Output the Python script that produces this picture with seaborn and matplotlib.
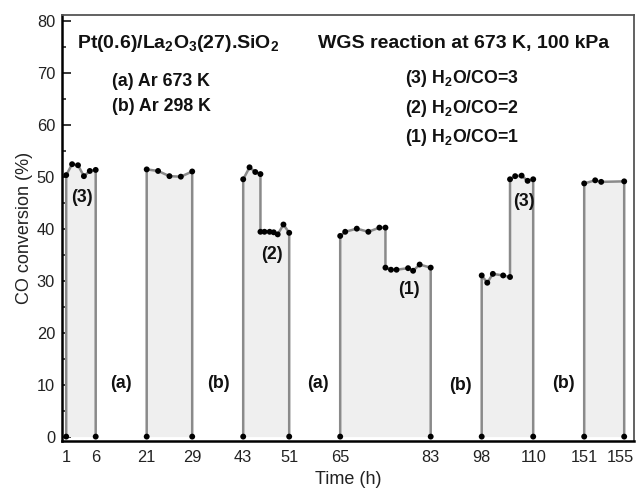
import numpy as np
import pandas as pd
import matplotlib
matplotlib.use("Agg")
import matplotlib.pyplot as plt
import matplotlib.transforms as mtransforms
import seaborn as sns

# ---- data: CO conversion (%) versus time on stream (h), per run segment ----
seg1_time = [1, 2, 3, 4, 5, 6]
seg1_conv = [50.3, 52.4, 52.2, 50.1, 51.1, 51.3]

seg2_time = [21, 23, 25, 27, 29]
seg2_conv = [51.4, 51.1, 50.1, 50.0, 51.0]

seg3_time = [43, 44.1, 45.1, 46, 46, 46.7, 47.6, 48.3, 49, 50, 51]
seg3_conv = [49.5, 51.8, 50.9, 50.5, 39.4, 39.4, 39.4, 39.3, 38.9, 40.8, 39.2]

seg4_time = [65, 66, 68.3, 70.6, 72.8, 74, 74, 75.1, 76.2, 78.5, 79.5, 80.8, 83]
seg4_conv = [38.6, 39.4, 40.0, 39.4, 40.2, 40.2, 32.5, 32.1, 32.1, 32.4, 31.9, 33.1, 32.5]

seg5_time = [98, 99.3, 100.6, 103, 104.6, 104.6, 105.8, 107.3, 108.7, 110]
seg5_conv = [31.0, 29.6, 31.3, 31.0, 30.7, 49.5, 50.1, 50.2, 49.2, 49.5]

seg6_time = [151, 152.1, 152.7, 155]
seg6_conv = [48.7, 49.3, 49.0, 49.1]

segments = [
    (seg1_time, seg1_conv),
    (seg2_time, seg2_conv),
    (seg3_time, seg3_conv),
    (seg4_time, seg4_conv),
    (seg5_time, seg5_conv),
    (seg6_time, seg6_conv),
]

# ---- broken time axis: each run segment gets its own stretch of the axis ----
axis_span = 572.0
first_offset = 4.2
gap_width = 51.0
seg_widths = [29.5, 45.5, 46.0, 90.5, 51.5, 40.0]

seg_starts = []
pos = first_offset
for w in seg_widths:
    seg_starts.append(pos)
    pos += w + gap_width


def to_axis(t, k):
    t0, t1 = segments[k][0][0], segments[k][0][-1]
    return seg_starts[k] + (np.asarray(t, float) - t0) / (t1 - t0) * seg_widths[k]


rows = []
for k, (t, c) in enumerate(segments):
    # closed outline: drop to zero at both ends of the run
    tt = [t[0]] + list(t) + [t[-1]]
    cc = [0.0] + list(c) + [0.0]
    for order, (ti, ci) in enumerate(zip(tt, cc)):
        rows.append({"seg": k, "order": order, "time": ti,
                     "xpos": float(to_axis(ti, k)), "conv": ci})
df = pd.DataFrame(rows)

tick_pos = []
tick_lab = []
for k, (t, _) in enumerate(segments):
    for ti in (t[0], t[-1]):
        tick_pos.append(float(to_axis(ti, k)))
        tick_lab.append(f"{ti:g}")

# ---- style ----
sns.set_style("white")
plt.rcParams["font.family"] = ["Liberation Sans", "DejaVu Sans"]
plt.rcParams["mathtext.fontset"] = "custom"
plt.rcParams["mathtext.rm"] = "Liberation Sans"
plt.rcParams["mathtext.bf"] = "Liberation Sans:bold"
plt.rcParams["mathtext.default"] = "bf"

fig = plt.figure(figsize=(6.36, 4.90), dpi=100)
ax = fig.add_axes([62 / 636, (490 - 440.5) / 490, 572 / 636, (440.5 - 15) / 490])

line_col = "#8a8a8a"
fill_col = "#efefef"
text_col = "#111111"

for k in range(len(segments)):
    d = df[df.seg == k]
    ax.fill_between(d.xpos, d.conv, 0, color=fill_col, lw=0, zorder=1)

sns.lineplot(data=df, x="xpos", y="conv", units="seg", estimator=None,
             sort=False, color=line_col, lw=1.8, ax=ax, zorder=2,
             legend=False)
sns.scatterplot(data=df, x="xpos", y="conv", color="black", s=18,
                edgecolor="none", ax=ax, zorder=3, clip_on=False,
                legend=False)

ax.set_xlim(0, axis_span)
ax.set_ylim(-0.75, 81.1)

ax.set_xticks(tick_pos)
ax.set_xticklabels(tick_lab)
ax.set_yticks(np.arange(0, 81, 10))
ax.set_yticks(np.arange(5, 80, 10), minor=True)

ax.tick_params(axis="x", length=0, pad=6.5, labelsize=11.8, labelcolor="#222222")
ax.tick_params(axis="y", which="major", direction="in", length=6.5, width=1.3,
               pad=5, labelsize=11.8, labelcolor="#222222", left=True)
ax.tick_params(axis="y", which="minor", direction="in", length=3.2, width=1.2,
               left=True)

# nudge the right-most time label so it stays inside the figure
last = ax.get_xticklabels()[-1]
last.set_transform(last.get_transform() +
                   mtransforms.ScaledTranslation(-3 / 72, 0, fig.dpi_scale_trans))

ax.set_xlabel("Time (h)", fontsize=13, color="#222222", labelpad=5)
ax.set_ylabel("CO conversion (%)", fontsize=13, color="#222222", labelpad=3)

for side in ("left", "bottom"):
    ax.spines[side].set_color("black")
    ax.spines[side].set_linewidth(1.8)
for side in ("top", "right"):
    ax.spines[side].set_color("#555555")
    ax.spines[side].set_linewidth(1.3)

# ---- annotations ----
tr = ax.transAxes
big = 14
small = 12.8
ax.text(0.026, 0.922, r"Pt(0.6)/La$_2$O$_3$(27).SiO$_2$", transform=tr,
        fontsize=big, fontweight="bold", va="baseline", ha="left", color=text_col)
ax.text(0.0874, 0.833, "(a) Ar 673 K", transform=tr, fontsize=small,
        fontweight="bold", va="baseline", color=text_col)
ax.text(0.0874, 0.774, "(b) Ar 298 K", transform=tr, fontsize=small,
        fontweight="bold", va="baseline", color=text_col)

ax.text(0.4476, 0.922, "WGS reaction at 673 K, 100 kPa", transform=tr,
        fontsize=big, fontweight="bold", va="baseline", color=text_col)
for y, lab in ((0.8395, r"(3) H$_2$O/CO=3"),
               (0.769, r"(2) H$_2$O/CO=2"),
               (0.702, r"(1) H$_2$O/CO=1")):
    ax.text(0.5997, y, lab, transform=tr, fontsize=small, fontweight="bold",
            va="baseline", color=text_col)

for x, y, lab in ((0.0344, 0.570, "(3)"),
                  (0.103, 0.135, "(a)"),
                  (0.274, 0.134, "(b)"),
                  (0.3675, 0.438, "(2)"),
                  (0.447, 0.134, "(a)"),
                  (0.606, 0.355, "(1)"),
                  (0.697, 0.130, "(b)"),
                  (0.807, 0.561, "(3)"),
                  (0.876, 0.134, "(b)")):
    ax.text(x, y, lab, transform=tr, fontsize=small, fontweight="bold",
            ha="center", va="center", color=text_col)

fig.savefig("out.png", dpi=100)
